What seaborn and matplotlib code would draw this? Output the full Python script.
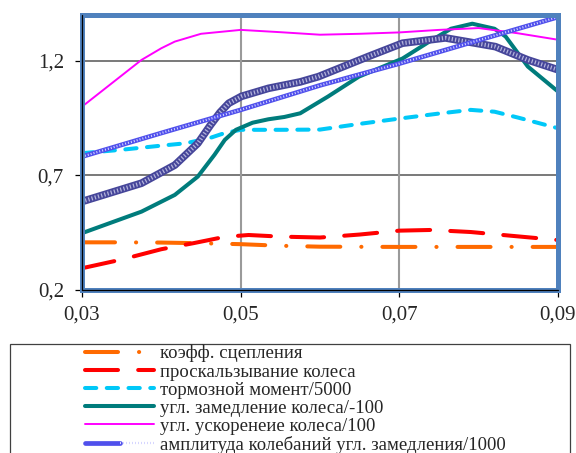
import matplotlib
matplotlib.use("Agg")
import matplotlib.pyplot as plt
import seaborn as sns
from matplotlib.lines import Line2D
from matplotlib.patches import Rectangle
from matplotlib.legend_handler import HandlerTuple
from matplotlib.ticker import FuncFormatter

# --- data -------------------------------------------------------------
x_ticks = [0.03, 0.05, 0.07, 0.09]
y_ticks = [0.2, 0.7, 1.2]

labels = [
    "коэфф. сцепления",
    "проскальзывание колеса",
    "тормозной момент/5000",
    "угл. замедление колеса/-100",
    "угл. ускоренеие колеса/100",
    "амплитуда колебаний угл. замедления/1000",
]

x_adh = [0.030, 0.035, 0.040, 0.045, 0.050, 0.055, 0.060, 0.070, 0.080, 0.090]
y_adh = [0.408, 0.408, 0.407, 0.404, 0.400, 0.393, 0.389, 0.388, 0.388, 0.388]

x_slip = [0.030, 0.035, 0.040, 0.044, 0.048, 0.051, 0.055, 0.060, 0.065, 0.070, 0.074, 0.079, 0.084, 0.090]
y_slip = [0.295, 0.333, 0.378, 0.404, 0.432, 0.440, 0.433, 0.429, 0.442, 0.459, 0.462, 0.453, 0.437, 0.418]

x_torque = [0.030, 0.035, 0.040, 0.043, 0.046, 0.048, 0.050, 0.055, 0.060, 0.065, 0.070, 0.075, 0.079, 0.082, 0.085, 0.090]
y_torque = [0.797, 0.812, 0.830, 0.840, 0.862, 0.885, 0.899, 0.899, 0.900, 0.925, 0.948, 0.970, 0.986, 0.978, 0.952, 0.906]

x_decel = [0.030, 0.0375, 0.0417, 0.0446, 0.0467, 0.048, 0.0494, 0.0515, 0.0535, 0.0555, 0.0575, 0.061, 0.0649,
           0.0704, 0.0736, 0.0765, 0.0792, 0.082, 0.0834, 0.0862, 0.090]
y_decel = [0.448, 0.542, 0.615, 0.695, 0.790, 0.855, 0.899, 0.930, 0.945, 0.955, 0.971, 1.044, 1.131,
           1.210, 1.280, 1.340, 1.362, 1.340, 1.306, 1.175, 1.066]

x_accel = [0.030, 0.035, 0.0375, 0.040, 0.0417, 0.045, 0.050, 0.055, 0.060, 0.065, 0.070, 0.075, 0.080, 0.085, 0.090]
y_accel = [1.000, 1.136, 1.204, 1.255, 1.284, 1.318, 1.335, 1.325, 1.314, 1.318, 1.324, 1.335, 1.343, 1.320, 1.292]

x_amp = [0.030, 0.040, 0.050, 0.060, 0.070, 0.080, 0.090]
y_amp = [0.782, 0.885, 0.986, 1.093, 1.188, 1.290, 1.391]

x_amp2 = [0.030, 0.0375, 0.0417, 0.0446, 0.0462, 0.0474, 0.0485, 0.0501, 0.0535, 0.0575, 0.0598, 0.0661,
          0.0704, 0.0758, 0.0821, 0.0862, 0.090]
y_amp2 = [0.586, 0.666, 0.745, 0.840, 0.920, 0.975, 1.015, 1.045, 1.080, 1.108, 1.131, 1.219,
          1.277, 1.300, 1.262, 1.204, 1.161]

# --- styling ----------------------------------------------------------
sns.set_style("white")
plt.rcParams["font.family"] = ["Liberation Serif", "DejaVu Serif"]

BORDER = "#4F81BD"

fig = plt.figure(figsize=(5.76, 4.53), dpi=100)
ax = fig.add_axes([82 / 576, 1 - 290 / 453, (558 - 82) / 576, (290 - 15) / 453])

common = dict(ax=ax, estimator=None, sort=False, dash_capstyle="round",
              solid_capstyle="round", solid_joinstyle="round")
overlay = dict(ax=ax, estimator=None, sort=False, dash_capstyle="butt")

sns.lineplot(x=x_adh, y=y_adh, color="#FF6A00", linewidth=2.9,
             linestyle=(0, (8.2, 5.2, 0.05, 5.2)), **common)
sns.lineplot(x=x_slip, y=y_slip, color="#FF0000", linewidth=2.9,
             linestyle=(0, (8.2, 5.0)), **common)
sns.lineplot(x=x_torque, y=y_torque, color="#00C8F8", linewidth=2.9,
             linestyle=(0, (2.8, 2.6)), **common)
sns.lineplot(x=x_decel, y=y_decel, color="#007C7C", linewidth=2.9, **common)
sns.lineplot(x=x_accel, y=y_accel, color="#FF00FF", linewidth=1.4, **common)

# textured thick line
sns.lineplot(x=x_amp2, y=y_amp2, color="#46469A", linewidth=5.5, **common)
sns.lineplot(x=x_amp2, y=y_amp2, color="#B4B4DC", linewidth=3.0,
             linestyle=(0, (0.3, 0.5)), **overlay)
# textured thin line
sns.lineplot(x=x_amp, y=y_amp, color="#5050EC", linewidth=3.4, **common)
sns.lineplot(x=x_amp, y=y_amp, color="#D6D6FF", linewidth=1.6,
             linestyle=(0, (0.45, 0.9)), **overlay)

ax.set_xlim(0.03, 0.09)
ax.set_ylim(0.2, 1.4)
ax.set_xticks(x_ticks)
ax.set_yticks(y_ticks)
ax.xaxis.set_major_formatter(FuncFormatter(lambda v, _: f"{v:.2f}".replace(".", ",")))
ax.yaxis.set_major_formatter(FuncFormatter(lambda v, _: f"{v:.1f}".replace(".", ",")))
ax.set_xlabel("")
ax.set_ylabel("")

ax.grid(False)
for yv in y_ticks[1:]:
    ax.axhline(yv, color="#555555", lw=1.1, zorder=1)
for xv in x_ticks[1:-1]:
    ax.axvline(xv, color="#9A9A9A", lw=1.5, zorder=1)

for s in ax.spines.values():
    s.set_color(BORDER)
    s.set_linewidth(3.6)
    s.set_zorder(3)
ax.plot([0, 0], [0, 1], transform=ax.transAxes, color="black", lw=0.9, clip_on=False, zorder=4)
ax.plot([0, 1], [0, 0], transform=ax.transAxes, color="black", lw=0.9, clip_on=False, zorder=4)

ax.tick_params(axis="both", direction="out", length=5, width=0.9, color="black",
               labelsize=15, bottom=True, left=True)
ax.tick_params(axis="x", pad=6)
ax.tick_params(axis="y", pad=8)

# --- legend -----------------------------------------------------------
h_adh = Line2D([], [], color="#FF6A00", lw=2.9, linestyle=(0, (8.2, 5.2, 0.05, 5.2)), dash_capstyle="round")
h_slip = Line2D([], [], color="#FF0000", lw=2.9, linestyle=(0, (8.2, 5.0)), dash_capstyle="round")
h_torque = Line2D([], [], color="#00C8F8", lw=2.9, linestyle=(0, (2.8, 2.6)), dash_capstyle="round")
h_decel = Line2D([], [], color="#007C7C", lw=2.9, solid_capstyle="round")
h_accel = Line2D([], [], color="#FF00FF", lw=1.4)
h_amp = (Line2D([], [], color="#5050EC", lw=3.4),
         Line2D([], [], color="#D6D6FF", lw=1.6, linestyle=(0, (0.45, 0.9)), dash_capstyle="butt"))

fig.legend([h_adh, h_slip, h_torque, h_decel, h_accel, h_amp], labels,
           loc="upper left", bbox_to_anchor=(85 / 576, 1 - 345 / 453),
           frameon=False, fontsize=13.5, handlelength=3.7, handletextpad=0.3,
           labelspacing=0.05, borderpad=0, borderaxespad=0,
           handler_map={tuple: HandlerTuple(ndivide=None)})

fig.add_artist(Rectangle((10 / 576, -0.1), (570 - 10) / 576, (1 - 344 / 453) + 0.1,
                         transform=fig.transFigure, fill=False, edgecolor="#404040", lw=0.9))

fig.savefig("out.png", dpi=100)
